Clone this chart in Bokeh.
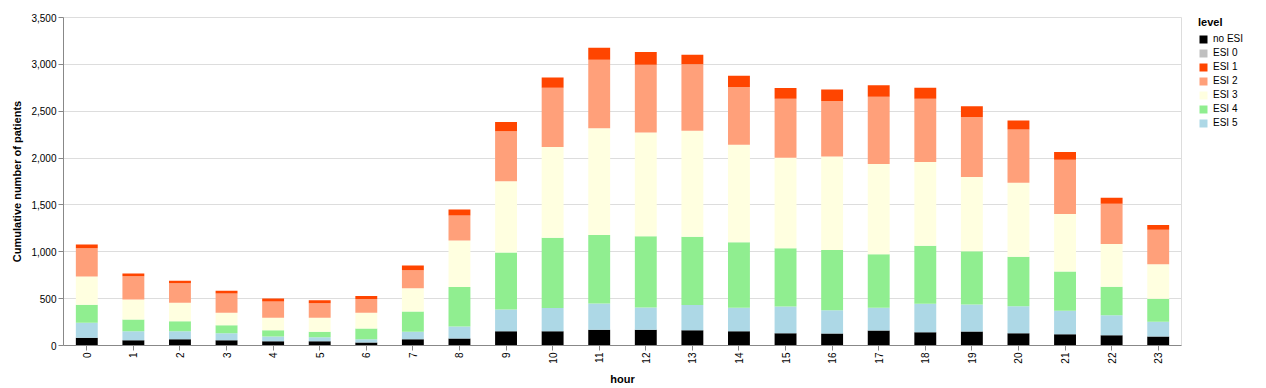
from bokeh.plotting import figure
from bokeh.models import FactorRange, Legend, LegendItem, NumeralTickFormatter, FixedTicker
from bokeh.embed import file_html
from bokeh.resources import INLINE
import math

hours = [str(h) for h in range(24)]
levels_stack = ["no ESI", "ESI 5", "ESI 4", "ESI 3", "ESI 2", "ESI 1", "ESI 0"]
legend_order = ["no ESI", "ESI 0", "ESI 1", "ESI 2", "ESI 3", "ESI 4", "ESI 5"]
colors = {"no ESI": "#000000", "ESI 0": "#c0c0c0", "ESI 1": "#ff4500", "ESI 2": "#ffa07a",
          "ESI 3": "#ffffe0", "ESI 4": "#90ee90", "ESI 5": "#add8e6"}

no_esi = [82, 57, 68, 57, 46, 46, 32, 68, 75, 153, 153, 167, 167, 164, 153, 132, 128, 160, 142, 149, 132, 121, 110, 96]
esi5 = [160, 96, 85, 75, 50, 43, 36, 78, 128, 231, 246, 281, 239, 267, 249, 284, 249, 242, 303, 289, 288, 249, 214, 157]
esi4 = [192, 125, 107, 85, 68, 57, 113, 217, 420, 609, 750, 730, 761, 729, 701, 623, 641, 573, 619, 569, 527, 420, 302, 245]
esi3 = [303, 213, 196, 132, 131, 149, 168, 249, 498, 761, 968, 1139, 1107, 1132, 1039, 965, 1000, 961, 893, 790, 790, 612, 456, 370]
esi2 = [302, 249, 209, 206, 175, 157, 146, 192, 267, 531, 634, 733, 722, 708, 616, 629, 591, 719, 676, 641, 569, 580, 430, 367]
esi1 = [39, 29, 25, 29, 32, 32, 32, 50, 64, 99, 110, 128, 136, 103, 121, 114, 124, 121, 118, 114, 96, 82, 65, 50]
esi0 = [0] * 24

y_ticks = [0, 500, 1000, 1500, 2000, 2500, 3000, 3500]

data = {"hour": hours, "no ESI": no_esi, "ESI 5": esi5, "ESI 4": esi4, "ESI 3": esi3,
        "ESI 2": esi2, "ESI 1": esi1, "ESI 0": esi0}

FONT = "Liberation Sans"

p = figure(x_range=FactorRange(*hours, range_padding=0), y_range=(0, 3500),
           frame_width=1118, frame_height=328, output_backend="svg", toolbar_location=None,
           min_border_left=63, min_border_top=17, min_border_right=85, min_border_bottom=43)

renderers = p.vbar_stack(levels_stack, x="hour", width=0.47, source=data,
                         color=[colors[l] for l in levels_stack], line_color=None)
rmap = dict(zip(levels_stack, renderers))

items = [LegendItem(label=l, renderers=[rmap[l]]) for l in legend_order]
legend = Legend(items=items, location=(17, 217), title="level",
                title_text_font=FONT, title_text_font_size="11px", title_text_font_style="bold",
                title_text_color="#000000", title_standoff=5,
                label_text_font=FONT, label_text_font_size="10px", label_text_color="#000000",
                glyph_width=10, glyph_height=10, label_height=10, spacing=3,
                label_standoff=5, padding=0, margin=0,
                border_line_color=None, background_fill_alpha=0)
p.add_layout(legend, "right")

p.outline_line_color = "#dddddd"
p.xgrid.grid_line_color = None
p.ygrid.grid_line_color = "#dddddd"
p.ygrid.ticker = FixedTicker(ticks=y_ticks)

p.yaxis.ticker = FixedTicker(ticks=y_ticks)
p.yaxis.formatter = NumeralTickFormatter(format="0,0")
p.yaxis.axis_label = "Cumulative number of patients"
p.xaxis.axis_label = "hour"
p.xaxis.major_label_orientation = math.pi / 2

for ax in (p.xaxis, p.yaxis):
    ax.axis_line_color = "#888888"
    ax.major_tick_line_color = "#888888"
    ax.minor_tick_line_color = None
    ax.major_tick_out = 5
    ax.major_tick_in = 0
    ax.major_label_standoff = 2
    ax.major_label_text_font = FONT
    ax.major_label_text_font_size = "10px"
    ax.major_label_text_color = "#000000"
    ax.axis_label_text_font = FONT
    ax.axis_label_text_font_size = "11px"
    ax.axis_label_text_font_style = "bold"
    ax.axis_label_text_color = "#000000"
p.yaxis.axis_label_standoff = 5
p.xaxis.axis_label_standoff = 6

open("out.html", "w").write(file_html(p, INLINE))
